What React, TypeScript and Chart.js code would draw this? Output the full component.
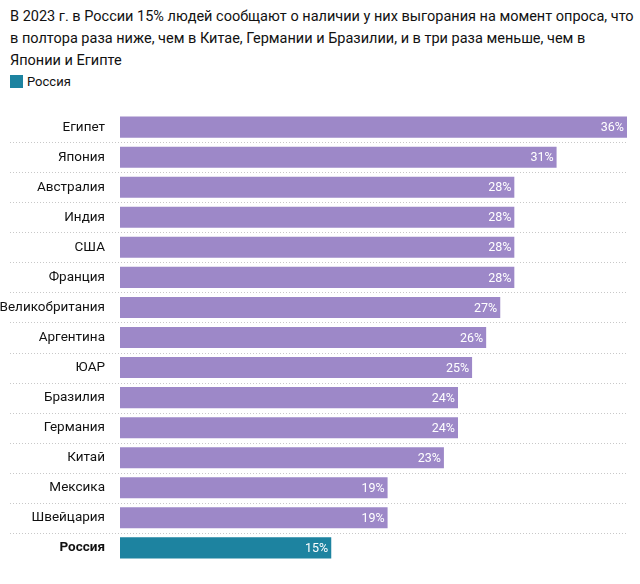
import React, { useEffect, useRef } from "react";
import { Chart, registerables } from "chart.js";
Chart.register(...registerables);

const categories = ["Египет","Япония","Австралия","Индия","США","Франция","Великобритания","Аргентина","ЮАР","Бразилия","Германия","Китай","Мексика","Швейцария","Россия"];
const values = [36,31,28,28,28,28,27,26,25,24,24,23,19,19,15];
const highlight = "Россия";
const purple = "#9d88c8";
const teal = "#1d83a0";

export default function App() {
  const ref = useRef<HTMLCanvasElement>(null);
  useEffect(() => {
    document.body.style.margin = "0";
    const sep = {
      id: "sep",
      afterDraw(chart: any) {
        const ctx = chart.ctx; const y = chart.scales.y; const a = chart.chartArea;
        ctx.save(); ctx.strokeStyle = "#c8c8c8"; ctx.setLineDash([1, 2]); ctx.lineWidth = 1;
        for (let i = 0; i < categories.length - 1; i++) {
          const yy = Math.round((y.getPixelForValue(i) + y.getPixelForValue(i + 1)) / 2) + 0.5;
          ctx.beginPath(); ctx.moveTo(10, yy); ctx.lineTo(a.right, yy); ctx.stroke();
        }
        const x = chart.scales.x;
        ctx.fillStyle = "#fff"; ctx.font = "12.5px Roboto"; ctx.textAlign = "right"; ctx.textBaseline = "middle";
        values.forEach((v, i) => ctx.fillText(v + "%", x.getPixelForValue(v) - 3, y.getPixelForValue(i) + 1));
        ctx.restore();
      },
    };
    const c = new Chart(ref.current!, {
      type: "bar",
      data: { labels: categories, datasets: [{ data: values, backgroundColor: categories.map(c => c === highlight ? teal : purple), barPercentage: 0.7, categoryPercentage: 1 }] },
      options: {
        indexAxis: "y", animation: false, responsive: true, maintainAspectRatio: false,
        layout: { padding: { right: 13, top: 0, bottom: 0 } },
        plugins: { legend: { display: false }, tooltip: { enabled: false } },
        scales: {
          x: { display: false, min: 0, max: 36 },
          y: {
            grid: { display: false }, border: { display: false },
            afterFit: (s: any) => { s.width = 120; },
            ticks: {
              color: "#111", padding: 7,
              font: (ctx: any) => ({ family: "Roboto", size: 13.5, weight: categories[ctx.index] === highlight ? "bold" : "normal" }),
            },
          },
        },
      },
      plugins: [sep],
    });
    return () => c.destroy();
  }, []);
  return (
    <div style={{ position: "relative", width: 640, height: 584, fontFamily: "Roboto, sans-serif", background: "#fff" }}>
      <div style={{ position: "absolute", left: 10, top: 6, width: 625, fontSize: 14.5, lineHeight: "22px", color: "#111" }}>
        В 2023 г. в России 15% людей сообщают о наличии у них выгорания на момент опроса, что в полтора раза ниже, чем в Китае, Германии и Бразилии, и в три раза меньше, чем в Японии и Египте
      </div>
      <div style={{ position: "absolute", left: 10, top: 74, fontSize: 13, color: "#111", display: "flex", alignItems: "center" }}>
        <span style={{ display: "inline-block", width: 13, height: 13, background: teal, marginRight: 4 }} />Россия
      </div>
      <div style={{ position: "absolute", left: 0, top: 97, width: 640, height: 481 }}>
        <canvas ref={ref} />
      </div>
    </div>
  );
}
